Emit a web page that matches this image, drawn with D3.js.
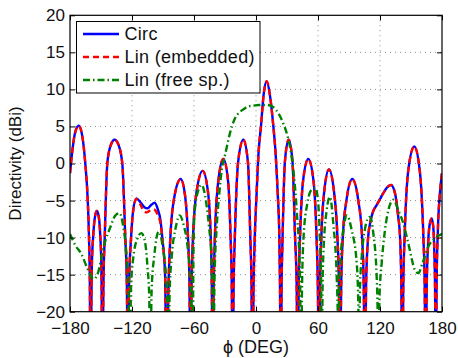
<!DOCTYPE html>
<html><head><meta charset="utf-8">
<script src="https://cdn.jsdelivr.net/npm/d3@7"></script>
<style>
html,body{margin:0;padding:0;background:#fff;}
svg text{font-family:"Liberation Sans",Arial,Helvetica,sans-serif;}
</style></head>
<body><svg id="c" width="458" height="358"></svg>
<script>
const xTicks = [-180,-120,-60,0,60,120,180];
const yTicks = [-20,-15,-10,-5,0,5,10,15,20];
const seriesNames = ["Circ","Lin (embedded)","Lin (free sp.)"];

// Circ (blue) [phi(deg), directivity(dBi)]
const circ = [
[-180,-1.3],[-177.5,2.0],[-175,4.2],[-171.6,5.1],[-168.5,4.0],[-165.2,0],[-163,-4.5],[-161.6,-10],[-160.8,-16],[-160.2,-30],
[-158.9,-14],[-157.4,-9.5],[-155.6,-7],[-154,-6.4],[-152.4,-7],[-150.8,-9.5],[-149.6,-14],[-148.6,-30],
[-147.6,-16],[-146.4,-10],[-143.9,0],[-140.5,2.5],[-136.8,3.2],[-133,2.5],[-129.4,0],[-126.5,-10],[-125,-16],[-124,-30],
[-122.8,-16],[-120.9,-10],[-119,-6.5],[-115.8,-4.7],[-112,-5.2],[-108,-5.9],[-105,-6.05],[-101.5,-5.6],[-98,-5.3],[-95,-6.2],[-92.3,-7.8],[-90.7,-10],[-88,-15],[-86.5,-30],
[-84.6,-16],[-82.9,-10],[-79,-4.5],[-72.9,-2.1],[-68.5,-4.5],[-65.8,-10],[-64.4,-16],[-63.5,-30],
[-62.3,-16],[-61,-10],[-57.5,-3.8],[-51.6,-1.0],[-46.5,-3.8],[-43.8,-10],[-42.8,-16],[-42,-30],
[-40.9,-16],[-39.8,-10],[-36.5,-2.4],[-31.6,0.6],[-27,-2.4],[-24.6,-10],[-23.5,-16],[-22.6,-30],
[-21.6,-16],[-20.5,-10],[-17.3,0.2],[-12.3,3.2],[-7.8,0.2],[-5.5,-10],[-4.4,-16],[-3.5,-30],
[-2.3,-16],[-1.2,-10],[0.6,-4],[2.5,1.5],[4.8,5],[7.3,9.2],[10.3,11.1],[13.5,9.2],[16.8,5],[19,1.3],[21,-4],[22.6,-10],[23.2,-16],[23.9,-30],
[24.8,-16],[25.7,-10],[28,0.3],[31.6,3.2],[35.3,0.3],[37.8,-10],[39.3,-16],[40.4,-30],
[41.4,-16],[42.6,-10],[45.5,-2.4],[50.6,0.6],[55.7,-2.4],[58.6,-10],[59.8,-16],[61,-30],
[62,-16],[63.2,-10],[66,-3.8],[70.6,-0.8],[75.5,-3.8],[78.8,-10],[80.2,-16],[81.3,-30],
[82.5,-16],[84,-10],[87.5,-5],[93.2,-2.1],[99,-5],[102.7,-10],[104.2,-16],[105.5,-30],
[106.6,-16],[108.5,-10],[110.5,-8],[113,-6.6],[116.8,-5.6],[120,-4.8],[123.2,-4.0],[127,-3.2],[130.6,-2.9],[134.5,-4],[137.5,-7],[139.4,-10],[140.6,-16],[141.6,-30],
[142.6,-16],[143.8,-10],[147.3,-1],[153.2,2.3],[158.5,-1],[162,-10],[163.2,-16],[164.2,-30],
[165.3,-16],[166.5,-11],[168,-8.3],[170,-7.4],[171.5,-8.5],[172.6,-12],[173.3,-17],[173.9,-30],
[174.8,-16],[176,-9],[178,-4],[180,-1.3]
];

// Lin (embedded) (red)
const linEmb = [
[-180,-1.3],[-177.5,2.0],[-175,4.2],[-171.6,5.1],[-168.5,4.0],[-165.2,0],[-163,-4.5],[-161.6,-10],[-160.8,-16],[-160.2,-30],
[-158.9,-14],[-157.4,-9.5],[-155.6,-7],[-154,-6.4],[-152.4,-7],[-150.8,-9.5],[-149.6,-14],[-148.6,-30],
[-147.6,-16],[-146.4,-10],[-143.9,0],[-140.5,2.5],[-136.8,3.2],[-133,2.5],[-129.4,0],[-126.5,-10],[-125,-16],[-124,-30],
[-122.8,-16],[-120.9,-10],[-119,-6.6],[-115.8,-4.8],[-112,-5.5],[-109,-6.3],[-106,-6.6],[-102,-6.3],[-99,-6.2],[-95.5,-6.8],[-92.3,-8.2],[-90.7,-10],[-88,-15],[-86.5,-30],
[-84.6,-16],[-82.9,-10],[-79,-4.5],[-72.9,-2.1],[-68.5,-4.5],[-65.8,-10],[-64.4,-16],[-63.5,-30],
[-62.3,-16],[-61,-10],[-57.5,-3.8],[-51.6,-1.0],[-46.5,-3.8],[-43.8,-10],[-42.8,-16],[-42,-30],
[-40.9,-16],[-39.8,-10],[-36.5,-2.4],[-31.6,0.6],[-27,-2.4],[-24.6,-10],[-23.5,-16],[-22.6,-30],
[-21.6,-16],[-20.5,-10],[-17.3,0.2],[-12.3,3.2],[-7.8,0.2],[-5.5,-10],[-4.4,-16],[-3.5,-30],
[-2.3,-16],[-1.2,-10],[0.6,-4],[2.5,1.5],[4.8,5],[7.3,9.2],[10.3,11.1],[13.5,9.2],[16.8,5],[19,1.3],[21,-4],[22.6,-10],[23.2,-16],[23.9,-30],
[24.8,-16],[25.7,-10],[28,0.3],[31.6,3.2],[35.3,0.3],[37.8,-10],[39.3,-16],[40.4,-30],
[41.4,-16],[42.6,-10],[45.5,-2.4],[50.6,0.6],[55.7,-2.4],[58.6,-10],[59.8,-16],[61,-30],
[62,-16],[63.2,-10],[66,-3.8],[70.6,-0.8],[75.5,-3.8],[78.8,-10],[80.2,-16],[81.3,-30],
[82.5,-16],[84,-10],[87.5,-5],[93.2,-2.1],[99,-5],[102.7,-10],[104.2,-16],[105.5,-30],
[106.6,-16],[108.5,-10],[110.5,-8],[113,-6.6],[116.8,-5.6],[120,-4.8],[123.2,-4.0],[127,-3.2],[130.6,-2.9],[134.5,-4],[137.5,-7],[139.4,-10],[140.6,-16],[141.6,-30],
[142.6,-16],[143.8,-10],[147.3,-1],[153.2,2.3],[158.5,-1],[162,-10],[163.2,-16],[164.2,-30],
[165.3,-16],[166.5,-11],[168,-8.3],[170,-7.4],[171.5,-8.5],[172.6,-12],[173.3,-17],[173.9,-30],
[174.8,-16],[176,-9],[178,-4],[180,-1.3]
];

// Lin (free sp.) (green)
const linFree = [
[-180,-9.5],[-175,-11],[-169,-12.2],[-163,-14.2],[-157,-15.6],[-153,-14.8],[-147,-11],[-141,-8.6],[-136,-7],[-132,-6.7],[-128.5,-8.5],[-125.5,-12],[-123.5,-16.5],[-122.3,-30],
[-121,-17],[-119,-13],[-115,-10.2],[-111,-9.4],[-107.5,-10.5],[-105,-14],[-103.3,-18],[-102.5,-30],
[-101,-17],[-98.5,-12.5],[-94.2,-9.2],[-90,-11.5],[-87,-15.5],[-85.7,-20],[-85,-30],
[-83.5,-17],[-81.5,-12.5],[-77.5,-8.5],[-73.9,-7],[-70,-8.3],[-66,-11.5],[-63.5,-16],[-62.2,-22],[-61.5,-30],
[-60.7,-14],[-59.8,-7.5],[-57,-4.2],[-52.6,-2.9],[-48.5,-5],[-45.5,-8.5],[-43,-13],[-41.8,-20],[-41.3,-30],
[-40.2,-16],[-38,-8.5],[-35.5,-4],[-33.2,-0.9],[-30,1.1],[-25.2,4.1],[-20.3,6.1],[-16,6.9],[-12.3,7.3],[-7.4,7.7],[-2.6,7.8],[3,7.9],[10.3,7.9],[14,7.8],[16.8,7.6],[19.5,7.2],[21.6,6.8],[26.4,5.4],[30.3,3.8],[34.5,0.9],[37.7,-3.1],[40,-7.6],[41.8,-12],[42.8,-17],[43.6,-30],
[44.5,-17],[46,-10],[49.5,-5.5],[54,-3.5],[57.5,-3.3],[60,-5],[61.8,-10],[63,-16],[63.8,-30],
[64.4,-17],[65.1,-12.6],[68.4,-6.3],[71.6,-4.5],[74.8,-8.1],[78.1,-15.3],[79.3,-22],[79.7,-30],
[80.5,-17],[82,-12.5],[84.5,-9],[87.8,-7],[92.6,-9],[97.5,-13.5],[99,-19],[99.7,-30],
[100.6,-17],[102.3,-12.6],[105.5,-8.8],[108,-7.5],[110.3,-7.2],[113.5,-9.4],[116.8,-15.3],[117.9,-22],[118.4,-30],
[119.5,-18],[121.6,-13.5],[124.8,-9],[128.1,-6.3],[132.9,-4.9],[137.7,-6.3],[142.6,-8.1],[147.4,-10.8],[153.9,-14.4],[157.1,-14.8],[161,-13.5],[166.8,-11.2],[173.2,-10.1],[180,-9.5]
];

const W = 458, H = 358;
const L = 70, R = 442, T = 15.3, B = 311.7;
const x = d3.scaleLinear().domain([-180,180]).range([L,R]);
const y = d3.scaleLinear().domain([-20,20]).range([B,T]);
const svg = d3.select("#c");
svg.append("rect").attr("width",W).attr("height",H).attr("fill","#fff");

svg.append("defs").append("clipPath").attr("id","clip")
  .append("rect").attr("x",L).attr("y",T).attr("width",R-L).attr("height",B-T);

// grid
const grid = svg.append("g").attr("stroke","#808080").attr("stroke-width",0.9).attr("stroke-dasharray","1,4");
grid.selectAll("line.gx").data(xTicks.slice(1,-1)).join("line")
  .attr("x1",d=>x(d)).attr("x2",d=>x(d)).attr("y1",T).attr("y2",B);
grid.selectAll("line.gy").data(yTicks.slice(1,-1)).join("line")
  .attr("y1",d=>y(d)).attr("y2",d=>y(d)).attr("x1",L).attr("x2",R);

// curves
const line = d3.line().x(d=>x(d[0])).y(d=>y(d[1])).curve(d3.curveMonotoneX);
const plot = svg.append("g").attr("clip-path","url(#clip)");
const styles = [
  {data:circ, color:"#0000ff", dash:null},
  {data:linEmb, color:"#ff0000", dash:"6,4"},
  {data:linFree, color:"#008000", dash:"7,3,1.5,3"}
];
styles.forEach(s=>{
  plot.append("path").datum(s.data).attr("d",line)
    .attr("fill","none").attr("stroke",s.color).attr("stroke-width",2.4)
    .attr("stroke-dasharray",s.dash).attr("stroke-linejoin","round");
});

// axes
const fs = "17px";
const ax = svg.append("g").attr("transform",`translate(0,${B})`)
  .call(d3.axisBottom(x).tickValues(xTicks).tickSize(-5).tickPadding(10));
const ay = svg.append("g").attr("transform",`translate(${L},0)`)
  .call(d3.axisLeft(y).tickValues(yTicks).tickSize(-5).tickPadding(5));
const at = svg.append("g").attr("transform",`translate(0,${T})`)
  .call(d3.axisTop(x).tickValues(xTicks).tickSize(-5).tickFormat(""));
const ar = svg.append("g").attr("transform",`translate(${R},0)`)
  .call(d3.axisRight(y).tickValues(yTicks).tickSize(-5).tickFormat(""));
[ax,ay,at,ar].forEach(g=>{
  g.select(".domain").remove();
  g.selectAll("line").attr("stroke","#000").attr("stroke-width",1);
  g.selectAll("text").attr("fill","#111").style("font-size",fs);
});
svg.append("rect").attr("x",L).attr("y",T).attr("width",R-L).attr("height",B-T)
  .attr("fill","none").attr("stroke","#000").attr("stroke-width",1.2);

// axis labels
svg.append("text").attr("x",(L+R)/2).attr("y",353).attr("text-anchor","middle")
  .style("font-size","18px").attr("fill","#111").text("ϕ (DEG)");
svg.append("text").attr("transform",`translate(21,${(T+B)/2}) rotate(-90)`)
  .attr("text-anchor","middle").style("font-size",fs).attr("fill","#111").text("Directivity (dBi)");

// legend
const lg = svg.append("g");
lg.append("rect").attr("x",76.5).attr("y",21.5).attr("width",183.5).attr("height",71.5)
  .attr("fill","#fff").attr("stroke","#000").attr("stroke-width",1);
const rowsY = [34,57,80];
styles.forEach((s,i)=>{
  lg.append("line").attr("x1",83).attr("x2",119).attr("y1",rowsY[i]).attr("y2",rowsY[i])
    .attr("stroke",s.color).attr("stroke-width",2.4).attr("stroke-dasharray",s.dash);
  lg.append("text").attr("x",124.5).attr("y",rowsY[i]).attr("dy","0.36em")
    .style("font-size","18px").style("letter-spacing","0.3px")
    .attr("fill","#111").text(seriesNames[i]);
});
</script></body></html>
